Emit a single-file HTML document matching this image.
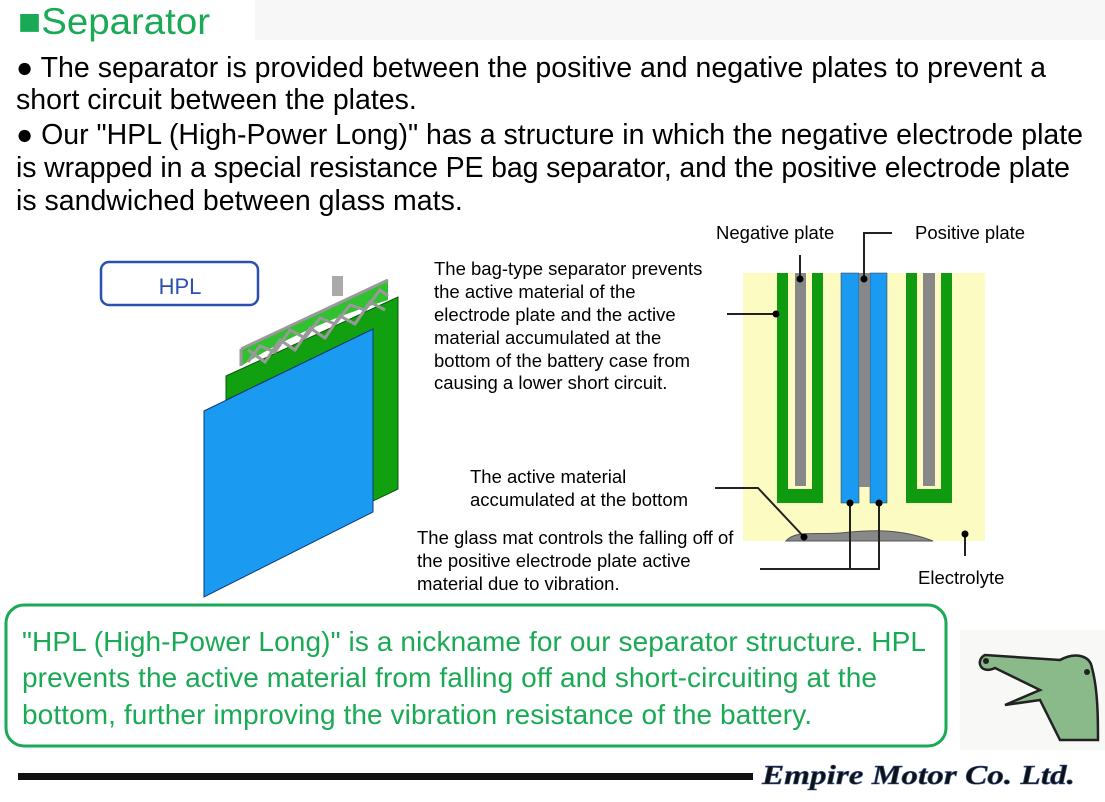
<!DOCTYPE html>
<html><head><meta charset="utf-8"><style>
body{margin:0;width:1105px;height:797px;background:#fff;overflow:hidden;font-family:"Liberation Sans",sans-serif;}
</style></head><body>
<svg width="1105" height="797" xmlns="http://www.w3.org/2000/svg" font-family="Liberation Sans, sans-serif">
<rect x="0" y="0" width="1105" height="40" fill="#f7f7f7"/>
<rect x="0" y="0" width="255" height="40" fill="#fff"/>
<text x="18" y="34" font-size="37" fill="#1aaa55" textLength="192" lengthAdjust="spacingAndGlyphs">■Separator</text>
<g font-size="28.5" fill="#000">
<text x="16" y="77" textLength="1030">● The separator is provided between the positive and negative plates to prevent a</text>
<text x="16" y="109">short circuit between the plates.</text>
<text x="16" y="144" textLength="1067">● Our "HPL (High-Power Long)" has a structure in which the negative electrode plate</text>
<text x="16" y="177" textLength="1054">is wrapped in a special resistance PE bag separator, and the positive electrode plate</text>
<text x="16" y="210">is sandwiched between glass mats.</text>
</g>
<rect x="101" y="262" width="157" height="43" rx="8" fill="#fff" stroke="#2a50b0" stroke-width="2.5"/>
<text x="180" y="294" font-size="22" fill="#2a50b0" text-anchor="middle">HPL</text>
<!-- left figure -->
<polygon points="226,376 398,297 398,489 373,501 373,329 226,400" fill="#10a010" stroke="#0a5a0a" stroke-width="1"/>
<path d="M241,349 L388,280 L388,300 C340,315 290,335 241,366 Z" fill="#30c030"/>
<g stroke="#999" stroke-width="3" fill="none">
<line x1="241" y1="349" x2="388" y2="280"/>
<line x1="241" y1="349" x2="241" y2="366"/>
<rect x="332" y="276" width="11" height="20" fill="#aaa" stroke="none"/>
<path d="M248,362 L260,346 L275,352 L290,330 L305,338 L320,318 L335,324 L350,305 L365,310 L380,290 L388,296"/>
<path d="M248,350 L265,362 L280,340 L295,350 L310,328 L325,338 L340,316 L355,324 L370,302 L385,310"/>
</g>
<polygon points="204,411 373,329 373,512 204,597" fill="#1a9af0" stroke="#0a3a7a" stroke-width="1"/>
<!-- middle text -->
<g font-size="18.5" fill="#000">
<text x="434" y="275">The bag-type separator prevents</text>
<text x="434" y="298">the active material of the</text>
<text x="434" y="321">electrode plate and the active</text>
<text x="434" y="344">material accumulated at the</text>
<text x="434" y="367">bottom of the battery case from</text>
<text x="434" y="389">causing a lower short circuit.</text>
<text x="470" y="483">The active material</text>
<text x="470" y="506">accumulated at the bottom</text>
<text x="417" y="544">The glass mat controls the falling off of</text>
<text x="417" y="567">the positive electrode plate active</text>
<text x="417" y="590">material due to vibration.</text>
<text x="716" y="239">Negative plate</text>
<text x="915" y="239">Positive plate</text>
<text x="918" y="584">Electrolyte</text>
</g>
<!-- right diagram -->
<rect x="743" y="273" width="242" height="268" fill="#fbfbc2"/>
<path d="M777,273 H823 V503 H777 Z" fill="#109a10"/>
<rect x="788" y="273" width="24" height="216" fill="#fbfbc2"/>
<rect x="795" y="273" width="11" height="213" fill="#888"/>
<path d="M906,273 H952 V503 H906 Z" fill="#109a10"/>
<rect x="917" y="273" width="24" height="216" fill="#fbfbc2"/>
<rect x="923" y="273" width="12" height="213" fill="#888"/>
<rect x="841" y="273" width="18" height="230" fill="#1a9af0" stroke="#333" stroke-width="0.5"/>
<rect x="870" y="273" width="17" height="230" fill="#1a9af0" stroke="#333" stroke-width="0.5"/>
<rect x="859" y="273" width="11" height="214" fill="#888"/>
<path d="M786,541 C795,530 815,535 840,533 C870,530 900,528 933,541 Z" fill="#888" stroke="#555" stroke-width="1"/>
<g stroke="#222" stroke-width="2" fill="none">
<line x1="800" y1="255" x2="800" y2="279"/>
<polyline points="892,233 864,233 864,279"/>
<line x1="727" y1="314" x2="776" y2="314"/>
<polyline points="715,488 758,488 804,537"/>
<polyline points="850,503 850,569 760,569"/>
<polyline points="879,503 879,569 850,569"/>
<line x1="965" y1="534" x2="965" y2="556"/>
</g>
<g fill="#000">
<circle cx="800" cy="279" r="3.5"/><circle cx="864" cy="279" r="3.5"/>
<circle cx="776" cy="314" r="3.5"/><circle cx="804" cy="537" r="3.5"/>
<circle cx="850" cy="503" r="3.5"/><circle cx="879" cy="503" r="3.5"/>
<circle cx="965" cy="534" r="3.5"/>
</g>
<!-- green box -->
<rect x="6" y="605" width="940" height="141" rx="18" fill="#fff" stroke="#1aaa55" stroke-width="3"/>
<g font-size="28" fill="#1aaa55">
<text x="22" y="651" textLength="904">"HPL (High-Power Long)" is a nickname for our separator structure. HPL</text>
<text x="22" y="687" textLength="855">prevents the active material from falling off and short-circuiting at the</text>
<text x="22" y="724" textLength="790">bottom, further improving the vibration resistance of the battery.</text>
</g>
<!-- croc -->
<rect x="960" y="630" width="145" height="120" fill="#f8f8f6"/>
<path d="M985,655 C975,660 980,675 995,668 L1040,690 L1005,705 L1040,700 L1060,740 L1098,740 C1098,720 1098,690 1092,668 C1090,655 1075,652 1060,660 Z" fill="#8ab98a" stroke="#222" stroke-width="2.5"/>
<circle cx="986" cy="661" r="3" fill="#222"/><circle cx="1087" cy="672" r="3" fill="#222"/>
<!-- footer -->
<rect x="18" y="773" width="735" height="7" fill="#111"/>
<text x="762" y="784" font-family="Liberation Serif, serif" font-style="italic" font-weight="bold" font-size="27" fill="#111" stroke="#3a5a9a" stroke-width="0.6" textLength="313" lengthAdjust="spacingAndGlyphs">Empire Motor Co. Ltd.</text>
</svg>
</body></html>
